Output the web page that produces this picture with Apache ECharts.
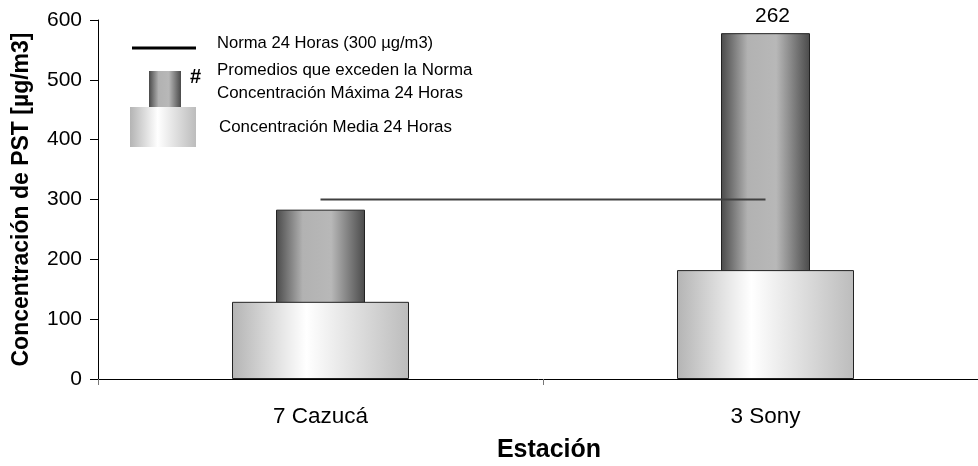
<!DOCTYPE html>
<html>
<head>
<meta charset="utf-8">
<script src="https://cdn.jsdelivr.net/npm/echarts@6/dist/echarts.min.js"></script>
<style>html,body{margin:0;padding:0;background:#fff;overflow:hidden;}#c{width:978px;height:466px;}</style>
</head>
<body>
<div id="c"></div>
<script>
var categories = ['7 Cazucá', '3 Sony'];
var mediaValues = [129, 182];
var maximaValues = [283, 578];
var normaValues = [300, 300];
var maximaLabels = ['', '262'];
var yTicks = [0, 100, 200, 300, 400, 500, 600];

var FONT = 'Liberation Sans, Arial, sans-serif';
function darkGrad() {
  return new echarts.graphic.LinearGradient(0, 0, 1, 0, [
    {offset: 0, color: '#4a4a4a'}, {offset: 0.3, color: '#b2b2b2'},
    {offset: 0.62, color: '#b8b8b8'}, {offset: 1, color: '#4a4a4a'}]);
}
function lightGrad() {
  return new echarts.graphic.LinearGradient(0, 0, 1, 0, [
    {offset: 0, color: '#b4b4b4'}, {offset: 0.42, color: '#ffffff'},
    {offset: 1, color: '#bcbcbc'}]);
}

var chart = echarts.init(document.getElementById('c'));
chart.setOption({
  animation: false,
  backgroundColor: '#fff',
  grid: {left: 98, width: 890, top: 20, height: 359, containLabel: false, outerBoundsMode: 'none'},
  xAxis: [{
    type: 'category', data: categories,
    axisLine: {lineStyle: {color: '#000', width: 1}},
    axisTick: {show: true, length: 6, lineStyle: {color: '#777'}},
    axisLabel: {color: '#000', fontFamily: FONT, fontSize: 22.5, margin: 26},
    name: 'Estación', nameLocation: 'middle', nameGap: 59,
    nameTextStyle: {color: '#000', fontFamily: FONT, fontSize: 25, fontWeight: 'bold', padding: [0, 0, 0, 12]}
  }, {
    type: 'category', data: categories, show: false
  }],
  yAxis: {
    type: 'value', min: 0, max: 600, interval: 100,
    axisLine: {show: true, lineStyle: {color: '#000', width: 1}},
    axisTick: {show: true, length: 8, lineStyle: {color: '#000'}},
    splitLine: {show: false},
    axisLabel: {color: '#000', fontFamily: FONT, fontSize: 21, margin: 16,
      formatter: function (v) { return yTicks.indexOf(v) >= 0 ? String(v) : ''; }},
    name: 'Concentración de PST [µg/m3]', nameLocation: 'middle', nameGap: 65,
    nameTextStyle: {color: '#000', fontFamily: FONT, fontSize: 23, fontWeight: 'bold'}
  },
  series: [{
    name: 'Concentración Máxima 24 Horas', type: 'bar', xAxisIndex: 1,
    data: maximaValues, barWidth: 89,
    itemStyle: {color: darkGrad(), borderColor: '#222', borderWidth: 1},
    label: {show: true, position: 'top', distance: 6, offset: [7, 0], color: '#000',
      fontFamily: FONT, fontSize: 21,
      formatter: function (p) { return maximaLabels[p.dataIndex]; }}
  }, {
    name: 'Concentración Media 24 Horas', type: 'bar', xAxisIndex: 0,
    data: mediaValues, barWidth: 177,
    itemStyle: {color: lightGrad(), borderColor: '#222', borderWidth: 1}
  }, {
    name: 'Norma 24 Horas (300 µg/m3)', type: 'line', xAxisIndex: 0,
    data: normaValues, symbol: 'none', z: 5,
    lineStyle: {color: '#404040', width: 2}
  }],
  graphic: [
    {type: 'line', shape: {x1: 132, y1: 48, x2: 196, y2: 48}, style: {stroke: '#000', lineWidth: 3}},
    {type: 'rect', shape: {x: 149, y: 71, width: 32, height: 36}, style: {fill: darkGrad()}},
    {type: 'rect', shape: {x: 130, y: 107, width: 66, height: 40}, style: {fill: lightGrad()}},
    {type: 'text', x: 190, y: 77, style: {text: '#', fontFamily: FONT, fontSize: 20, fontWeight: 'bold', fill: '#000', verticalAlign: 'middle'}},
    {type: 'text', x: 217, y: 43, style: {text: 'Norma 24 Horas (300 µg/m3)', fontFamily: FONT, fontSize: 16.6, fill: '#000', verticalAlign: 'middle'}},
    {type: 'text', x: 217, y: 70, style: {text: 'Promedios que exceden la Norma', fontFamily: FONT, fontSize: 16.9, fill: '#000', verticalAlign: 'middle'}},
    {type: 'text', x: 217, y: 93, style: {text: 'Concentración Máxima 24 Horas', fontFamily: FONT, fontSize: 16.9, fill: '#000', verticalAlign: 'middle'}},
    {type: 'text', x: 219, y: 127, style: {text: 'Concentración Media 24 Horas', fontFamily: FONT, fontSize: 16.9, fill: '#000', verticalAlign: 'middle'}}
  ]
});
</script>
</body>
</html>
